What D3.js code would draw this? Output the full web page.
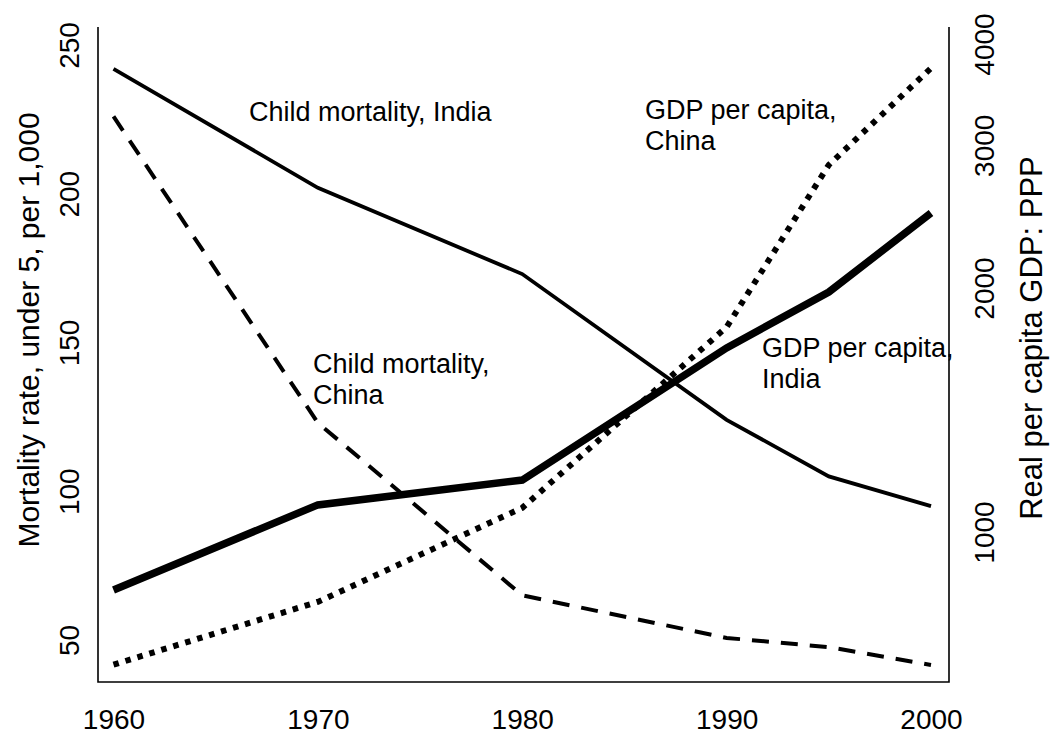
<!DOCTYPE html>
<html><head><meta charset="utf-8">
<script src="https://cdn.jsdelivr.net/npm/d3@7"></script>
<style>
html,body{margin:0;padding:0;background:#fff;}
text{font-family:"Liberation Sans",Arial,sans-serif;fill:#000;}
</style></head>
<body>
<svg id="c" width="1050" height="737"></svg>
<script>
const years = [1960, 1970, 1980, 1990, 1995, 2000];
const mortalityIndia = [242, 202, 173, 124, 105, 95];
const mortalityChina = [226, 123, 65, 50.7, 47.6, 41.6];
const gdpIndia = [848, 1080, 1159, 1687, 1977, 2475];
const gdpChina = [686, 820, 1071, 1790, 2837, 3735];
const xTicks = [1960, 1970, 1980, 1990, 2000];
const leftTicks = [50, 100, 150, 200, 250];
const rightTicks = [1000, 2000, 3000, 4000];
const leftTitle = "Mortality rate, under 5, per 1,000";
const rightTitle = "Real per capita GDP: PPP";

const svg = d3.select("#c");
const x = d3.scaleLinear().domain([1960, 2000]).range([113.5, 931]);
const yL = d3.scaleLinear().domain([50, 250]).range([640, 45]);
const yR = d3.scaleLog().domain([1000, 4000]).range([532, 44]);

// frame
const frame = {l: 98, r: 949, t: 27, b: 682};
svg.append("path")
  .attr("d", `M${frame.l},${frame.t}V${frame.b}H${frame.r}V${frame.t}`)
  .attr("fill", "none").attr("stroke", "#000").attr("stroke-width", 1.6);

function styleAxis(g, rotate) {
  g.select(".domain").remove();
  g.selectAll(".tick line").remove();
  g.selectAll(".tick text")
    .attr("x", 0).attr("y", 0).attr("dy", null)
    .attr("transform", rotate ? "rotate(-90)" : null)
    .attr("text-anchor", "middle")
    .attr("dominant-baseline", "central")
    .style("font-size", "28px")
    .style("font-family", "'Liberation Sans', Arial, sans-serif")
    .attr("fill", "#000");
}

svg.append("g").attr("transform", "translate(0,719)")
  .call(d3.axisBottom(x).tickValues(xTicks).tickFormat(d3.format("d")).tickSize(0))
  .call(g => styleAxis(g, false));
svg.append("g").attr("transform", "translate(69,0)")
  .call(d3.axisLeft(yL).tickValues(leftTicks).tickFormat(d3.format("d")).tickSize(0))
  .call(g => styleAxis(g, true));
svg.append("g").attr("transform", "translate(984,0)")
  .call(d3.axisRight(yR).tickValues(rightTicks).tickFormat(d3.format("d")).tickSize(0))
  .call(g => styleAxis(g, true));

// axis titles
svg.append("text").attr("transform", "translate(28,330) rotate(-90)")
  .attr("text-anchor", "middle").attr("dominant-baseline", "central")
  .style("font-size", "30px").text(leftTitle);
svg.append("text").attr("transform", "translate(1031,338) rotate(-90)")
  .attr("text-anchor", "middle").attr("dominant-baseline", "central")
  .style("font-size", "31px").text(rightTitle);

// lines
const lineL = d3.line().x((d, i) => x(years[i])).y(d => yL(d));
const lineR = d3.line().x((d, i) => x(years[i])).y(d => yR(d));

svg.append("path").datum(mortalityIndia).attr("d", lineL)
  .attr("fill", "none").attr("stroke", "#000").attr("stroke-width", 3.8);
svg.append("path").datum(mortalityChina).attr("d", lineL)
  .attr("fill", "none").attr("stroke", "#000").attr("stroke-width", 4)
  .attr("stroke-dasharray", "17 12");
svg.append("path").datum(gdpIndia).attr("d", lineR)
  .attr("fill", "none").attr("stroke", "#000").attr("stroke-width", 7.5);
svg.append("path").datum(gdpChina).attr("d", lineR)
  .attr("fill", "none").attr("stroke", "#000").attr("stroke-width", 6)
  .attr("stroke-dasharray", "5.5 7");

// annotations
const annotations = [
  {lines: ["Child mortality, India"], x: 249, y: 121},
  {lines: ["GDP per capita,", "China"], x: 645, y: 119},
  {lines: ["Child mortality,", "China"], x: 313, y: 373},
  {lines: ["GDP per capita,", "India"], x: 762, y: 357}
];
annotations.forEach(a => {
  const t = svg.append("text").attr("x", a.x).attr("y", a.y).style("font-size", "27px");
  a.lines.forEach((l, i) => t.append("tspan").attr("x", a.x).attr("dy", i === 0 ? 0 : 31).text(l));
});
</script>
</body></html>
